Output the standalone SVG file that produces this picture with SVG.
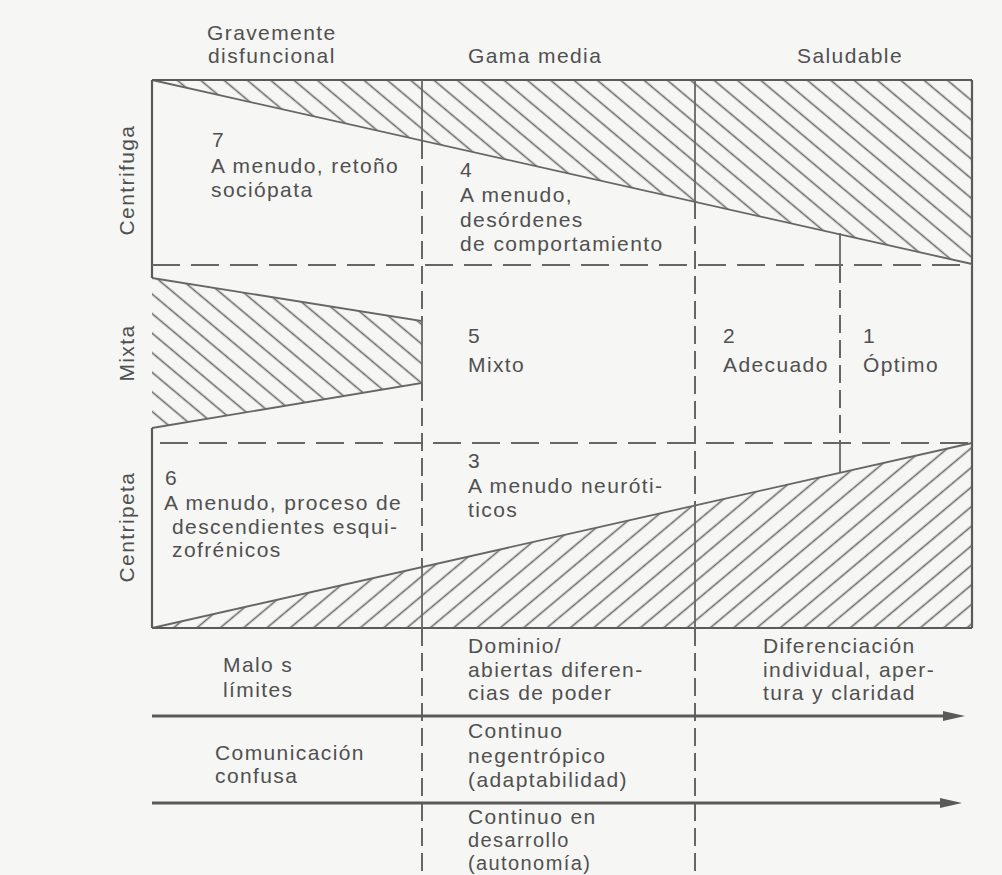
<svg xmlns="http://www.w3.org/2000/svg" width="1002" height="875" viewBox="0 0 1002 875">
<style>
  .t { font-family: "Liberation Sans", Arial, sans-serif; font-size: 21px; fill: #505050; letter-spacing: 1.4px; }
  .s { font-size: 20px; }
  .solid { stroke: #5a5a5a; stroke-width: 2.2; fill: none; }
  .thin { stroke: #666; stroke-width: 1.8; fill: none; }
  .dashH { stroke: #666; stroke-width: 2; fill: none; stroke-dasharray: 28 11; }
  .dashV { stroke: #666; stroke-width: 2; fill: none; stroke-dasharray: 18 7; }
  .arrow { stroke: #5a5a5a; stroke-width: 3.2; fill: none; }
</style>
<defs>
  <pattern id="hatchBack" patternUnits="userSpaceOnUse" width="15" height="15" patternTransform="rotate(-50)">
    <line x1="7.5" y1="-1" x2="7.5" y2="16" stroke="#6a6a6a" stroke-width="1.6"/>
  </pattern>
  <pattern id="hatchFwd" patternUnits="userSpaceOnUse" width="15" height="15" patternTransform="rotate(50)">
    <line x1="7.5" y1="-1" x2="7.5" y2="16" stroke="#6a6a6a" stroke-width="1.6"/>
  </pattern>
  <marker id="head" markerUnits="userSpaceOnUse" markerWidth="24" markerHeight="12" refX="0" refY="6" orient="auto">
    <path d="M0,1 L22,6 L0,11 z" fill="#5a5a5a"/>
  </marker>
</defs>
<rect x="0" y="0" width="1002" height="875" fill="#f6f6f4"/>

<g id="region-centrifuga">
  <polygon points="152,80 972,80 972,264" fill="url(#hatchBack)"/>
  <line class="thin" x1="152" y1="80" x2="972" y2="264"/>
</g>
<g id="region-mixta">
  <polygon points="152,278 422,321 422,383 152,428" fill="url(#hatchBack)"/>
  <polyline class="thin" points="152,278 422,321 422,383 152,428"/>
</g>
<g id="region-centripeta">
  <polygon points="152,628 972,628 972,443" fill="url(#hatchFwd)"/>
  <line class="thin" x1="152" y1="628" x2="972" y2="443"/>
</g>

<g id="connectors">
  <line class="solid" x1="152" y1="80" x2="972" y2="80"/>
  <line class="solid" x1="972" y1="80" x2="972" y2="628"/>
  <line class="solid" x1="152" y1="628" x2="972" y2="628"/>
  <line class="solid" x1="152" y1="80" x2="152" y2="278"/>
  <line class="solid" x1="152" y1="428" x2="152" y2="628"/>
  <line class="dashH" x1="152" y1="265" x2="972" y2="265"/>
  <line class="dashH" x1="160" y1="443" x2="972" y2="443"/>
  <line class="thin" x1="422" y1="80" x2="422" y2="141"/>
  <line class="dashV" x1="422" y1="141" x2="422" y2="321"/>
  <line class="dashV" x1="422" y1="383" x2="422" y2="567"/>
  <line class="thin" x1="422" y1="567" x2="422" y2="628"/>
  <line class="dashV" x1="422" y1="628" x2="422" y2="875"/>
  <line class="thin" x1="695" y1="80" x2="695" y2="201"/>
  <line class="dashV" x1="695" y1="201" x2="695" y2="505"/>
  <line class="thin" x1="695" y1="505" x2="695" y2="628"/>
  <line class="dashV" x1="695" y1="628" x2="695" y2="875"/>
  <line class="thin" x1="840" y1="233" x2="840" y2="265"/>
  <line class="dashV" x1="840" y1="265" x2="840" y2="443"/>
  <line class="thin" x1="840" y1="443" x2="840" y2="473"/>
  <line class="arrow" x1="152" y1="716" x2="943" y2="716" marker-end="url(#head)"/>
  <line class="arrow" x1="152" y1="803" x2="940" y2="803" marker-end="url(#head)"/>
</g>

<g id="header-labels">
  <text class="t" x="207" y="40">Gravemente</text>
  <text class="t" x="208" y="63">disfuncional</text>
  <text class="t" x="468" y="63">Gama media</text>
  <text class="t" x="797" y="63">Saludable</text>
</g>

<g id="side-labels">
  <text class="t" x="134" y="180" text-anchor="middle" transform="rotate(-90 134 180)">Centrifuga</text>
  <text class="t" x="134" y="353" text-anchor="middle" transform="rotate(-90 134 353)">Mixta</text>
  <text class="t" x="134" y="527" text-anchor="middle" transform="rotate(-90 134 527)">Centripeta</text>
</g>

<g id="cell-7">
  <text class="t" x="212" y="147">7</text>
  <text class="t" x="211" y="173">A menudo, retoño</text>
  <text class="t" x="211" y="197">sociópata</text>
</g>
<g id="cell-4">
  <text class="t" x="460" y="177">4</text>
  <text class="t" x="460" y="202">A menudo,</text>
  <text class="t" x="460" y="227">desórdenes</text>
  <text class="t" x="460" y="251">de comportamiento</text>
</g>
<g id="cell-5">
  <text class="t" x="468" y="343">5</text>
  <text class="t" x="468" y="372">Mixto</text>
</g>
<g id="cell-2">
  <text class="t" x="723" y="343">2</text>
  <text class="t" x="723" y="372">Adecuado</text>
</g>
<g id="cell-1">
  <text class="t" x="863" y="343">1</text>
  <text class="t" x="863" y="372">Óptimo</text>
</g>
<g id="cell-3">
  <text class="t" x="468" y="468">3</text>
  <text class="t" x="468" y="493">A menudo neuróti-</text>
  <text class="t" x="468" y="517">ticos</text>
</g>
<g id="cell-6">
  <text class="t" x="165" y="485">6</text>
  <text class="t" x="164" y="510">A menudo, proceso de</text>
  <text class="t" x="172" y="534">descendientes esqui-</text>
  <text class="t" x="172" y="557">zofrénicos</text>
</g>

<g id="row-limites">
  <text class="t" x="223" y="672">Malo s</text>
  <text class="t" x="223" y="697">límites</text>
  <text class="t" x="468" y="653">Dominio/</text>
  <text class="t" x="468" y="677">abiertas diferen-</text>
  <text class="t" x="468" y="700">cias de poder</text>
  <text class="t" x="763" y="653">Diferenciación</text>
  <text class="t" x="763" y="677">individual, aper-</text>
  <text class="t" x="763" y="700">tura y claridad</text>
</g>
<g id="row-comunicacion">
  <text class="t" x="215" y="760">Comunicación</text>
  <text class="t" x="215" y="783">confusa</text>
  <text class="t" x="468" y="738">Continuo</text>
  <text class="t" x="468" y="763">negentrópico</text>
  <text class="t" x="468" y="787">(adaptabilidad)</text>
</g>
<g id="row-desarrollo">
  <text class="t" x="468" y="824">Continuo en</text>
  <text class="t s" x="468" y="847">desarrollo</text>
  <text class="t s" x="468" y="870">(autonomía)</text>
</g>
</svg>
